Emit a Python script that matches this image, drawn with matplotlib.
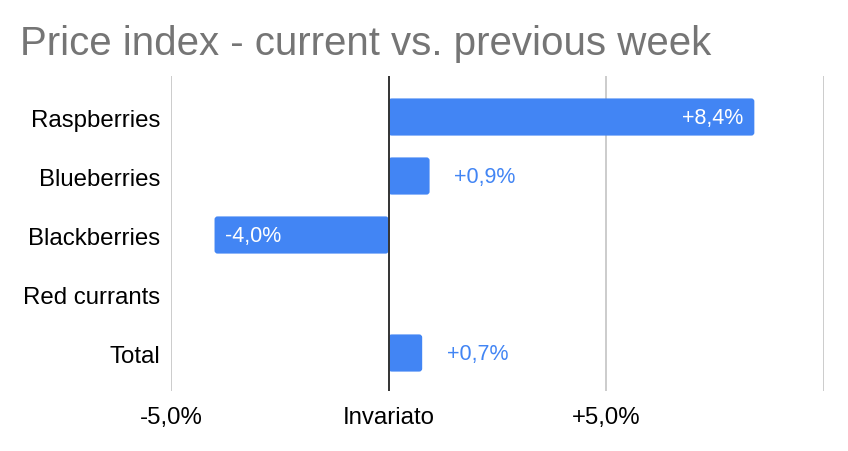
import matplotlib
matplotlib.use("Agg")
import matplotlib.pyplot as plt
from matplotlib.patches import FancyBboxPatch

plt.rcParams['font.family'] = ['Liberation Sans', 'DejaVu Sans']

categories = ['Raspberries', 'Blueberries', 'Blackberries', 'Red currants', 'Total']
values = [8.4, 0.94, -4.0, 0.0, 0.77]
labels = ['+8,4%', '+0,9%', '-4,0%', '', '+0,7%']
inside = [True, False, True, False, False]
tick_pos = [-5, 0, 5, 10]
tick_labels = ['-5,0%', 'Invariato', '+5,0%', '']

blue = '#4285f4'

fig = plt.figure(figsize=(8.48, 4.52), dpi=100)
ax = fig.add_axes([171 / 848, 1 - 392 / 452, 653 / 848, 315 / 452])

bars = ax.barh(range(len(categories)), values, height=0.63, color=blue)
# swap the plain bars for rounded ones
for b in bars:
    x, y, w, h = b.get_x(), b.get_y(), b.get_width(), b.get_height()
    b.set_visible(False)
    if w == 0:
        continue
    if w < 0:
        x, w = x + w, -w
    ax.add_patch(FancyBboxPatch((x, y), w, h,
                                boxstyle='round,pad=0,rounding_size=0.07',
                                mutation_aspect=0.72, fc=blue, ec='none', zorder=2))

for i, (v, lab) in enumerate(zip(values, labels)):
    if not lab:
        continue
    if inside[i]:
        if v > 0:
            ax.text(v - 0.25, i, lab, ha='right', va='center', color='white', fontsize=15.5, zorder=4)
        else:
            ax.text(v + 0.23, i, lab, ha='left', va='center', color='white', fontsize=15.5, zorder=4)
    else:
        ax.text(v + 0.57, i, lab, ha='left', va='center', color=blue, fontsize=15.5, zorder=4)

ax.set_xlim(-5, 10)
ax.set_ylim(4.644, -0.695)
ax.set_yticks(range(len(categories)))
ax.set_yticklabels(categories, fontsize=17.3)
ax.set_xticks(tick_pos)
ax.set_xticklabels(tick_labels, fontsize=17.3)
ax.tick_params(length=0)
ax.tick_params(axis='y', pad=7.5)
ax.tick_params(axis='x', pad=11)

for x in tick_pos:
    if x == 0:
        ax.axvline(x, color='#333333', lw=1.4, zorder=3)
    else:
        ax.axvline(x, color='#cccccc', lw=1.4, zorder=1)

for s in ax.spines.values():
    s.set_visible(False)

fig.text(20 / 848, 1 - 55 / 452, 'Price index - current vs. previous week',
         fontsize=29, color='#757575', ha='left', va='baseline')

fig.savefig('out.png', dpi=100)
